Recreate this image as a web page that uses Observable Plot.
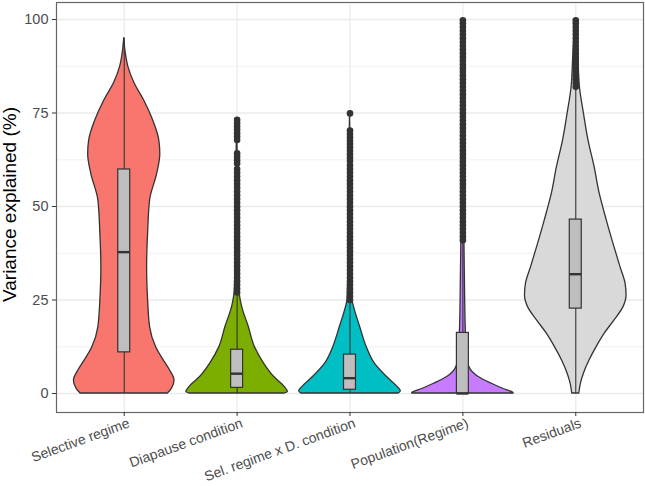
<!DOCTYPE html>
<html><head><meta charset="utf-8">
<script src="https://cdn.jsdelivr.net/npm/d3@7"></script>
<script src="https://cdn.jsdelivr.net/npm/@observablehq/plot@0.6"></script>
<style>
body{margin:0;background:#fff;}
svg{font-family:"Liberation Sans",Arial,Helvetica,sans-serif;}
</style>
</head><body><div id="chart"></div>
<script>
const categories = ["Selective regime","Diapause condition","Sel. regime x D. condition","Population(Regime)","Residuals"];
const fillColors = ["#F8766D","#7CAE00","#00BFC4","#C77CFF","#D9D9D9"];
const yTicks = [0,25,50,75,100];
const yMinorTicks = [12.5,37.5,62.5,87.5];

// violin profiles: [value, relative density width]
const profileSelective = [[0,0.86],[1.3,0.94],[3.5,0.99],[6.2,0.9],[8.8,0.78],[12.3,0.63],[17.7,0.51],[24.9,0.47],[33.8,0.45],[42.8,0.47],[51.7,0.51],[58.8,0.65],[64,0.71],[67.7,0.69],[73,0.57],[78.4,0.39],[83,0.2],[87.4,0.08],[91,0.03],[95,0]];
const profileDiapause = [[0,0.94],[0.4,1],[1.7,0.94],[4.4,0.73],[8,0.53],[12.4,0.35],[17.8,0.23],[23.1,0.1],[27,0.05],[35,0.03],[50,0.02],[62,0.012],[73.4,0]];
const profileInteraction = [[0,0.96],[0.6,1],[1.7,0.94],[4.4,0.73],[8,0.49],[12.4,0.33],[17.8,0.2],[23.1,0.08],[25,0.05],[35,0.03],[50,0.02],[62,0.012],[75,0]];
const profilePopulation = [[0,1],[0.2,0.99],[1.2,0.8],[2.6,0.57],[4.4,0.31],[7,0.13],[10,0.085],[16,0.06],[25,0.045],[41,0.03],[60,0.02],[80,0.015],[100,0]];
const profileResiduals = [[0,0.07],[2.6,0.1],[5.3,0.16],[8.8,0.27],[12.4,0.41],[16,0.57],[19.5,0.76],[23.1,0.94],[26.2,1],[29.4,0.98],[33.8,0.88],[39.2,0.76],[46.3,0.61],[53.5,0.47],[60.6,0.37],[67.7,0.25],[74.9,0.16],[81.5,0.085],[90,0.05],[100,0.01]];

// boxplot statistics
const q1 = [11, 1.5, 1.0, 0, 22.7];
const medians = [37.8, 5.3, 4.1, 0, 31.9];
const q3 = [59.9, 11.7, 10.4, 16.2, 46.5];
const whiskerLow = [0, 0, 0, 0, 0];
const whiskerHigh = [95, 27, 24.5, 40.5, 82];

// outliers
const outliersSelective = [];
const outliersDiapause = [73.2,72.3,71.4,70.5,69.6,68.7,67.8,64.2,63.3,62.4,61.5,60,59,58,57,56,55,54,53,52,51,50,49,48,47,46,45,44,43,42,41,40,39,38,37,36,35,34,33,32,31,30,29,28,27];
const outliersInteraction = [74.9,70.3,69.4,68.5,67.6,66.7,65.8,64.9,64,63.1,62.2,61,60,59,58,57,56,55,54,53,52,51,50,49,48,47,46,45,44,43,42,41,40,39,38,37,36,35,34,33,32,31,30,29,28,27,26,25];
const outliersPopulation = [99.8,99,98,97,96,95,94,93,92,91,90,89,88,87,86,85,84,83,82,81,80,79,78,77,76,75,74,73,72,71,70,69,68,67,66,65,64,63,62,61,60,59,58,57,56,55,54,53,52,51,50,49,48,47,46,45,44,43,42,41];
const outliersResiduals = [99.8,99,98,97,96,95,94,93,92,91,90,89,88,87,86,85,84,83,82];

const profiles = [profileSelective, profileDiapause, profileInteraction, profilePopulation, profileResiduals];
const outlierLists = [outliersSelective, outliersDiapause, outliersInteraction, outliersPopulation, outliersResiduals];

const VW = 0.45, BW = 0.053;
const violinRows = profiles.flatMap((p, i) => p.map(([v, w]) => ({cat: categories[i], pos: i + 1, y: v, x1: i + 1 - w * VW, x2: i + 1 + w * VW})));
const boxRows = categories.map((c, i) => ({cat: c, pos: i + 1, q1: q1[i], med: medians[i], q3: q3[i], lo: whiskerLow[i], hi: whiskerHigh[i]}));
const outlierRows = outlierLists.flatMap((l, i) => l.map(v => ({cat: categories[i], pos: i + 1, y: v})));

const chart = Plot.plot({
  width: 645, height: 486,
  marginLeft: 56, marginRight: 2, marginTop: 2, marginBottom: 74,
  x: {type: "linear", domain: [0.4, 5.6], axis: null},
  y: {domain: [-5.08, 104.55], axis: null},
  color: {domain: categories, range: fillColors},
  marks: [
    Plot.gridY({ticks: yMinorTicks, stroke: "#EBEBEB", strokeOpacity: 1, strokeWidth: 0.7}),
    Plot.gridY({ticks: yTicks, stroke: "#EBEBEB", strokeOpacity: 1, strokeWidth: 1.3}),
    Plot.gridX({ticks: [1,2,3,4,5], stroke: "#EBEBEB", strokeOpacity: 1, strokeWidth: 1.3}),
    Plot.areaX(violinRows, {y: "y", x1: "x1", x2: "x2", z: "cat", fill: "cat", stroke: "#333", strokeWidth: 1.3, curve: "monotone-y"}),
    Plot.ruleX(boxRows, {x: "pos", y1: "lo", y2: "hi", stroke: "#333", strokeWidth: 1.1}),
    Plot.rect(boxRows, {x1: d => d.pos - BW, x2: d => d.pos + BW, y1: "q1", y2: "q3", fill: "#BEBEBE", stroke: "#333", strokeWidth: 1.2}),
    Plot.ruleY(boxRows, {y: "med", x1: d => d.pos - BW, x2: d => d.pos + BW, stroke: "#333", strokeWidth: 2.4}),
    Plot.dot(outlierRows, {x: "pos", y: "y", r: 3.3, fill: "#333", stroke: null}),
    Plot.frame({stroke: "#666", strokeWidth: 1.2}),
    Plot.axisY({ticks: yTicks, tickSize: 4, tickPadding: 4, fontSize: 14.5, stroke: "#333", fill: "#4D4D4D", label: null}),
    Plot.axisX({ticks: [1,2,3,4,5], tickSize: 4, tickFormat: () => "", stroke: "#333", label: null}),
    Plot.text(categories, {x: (d, i) => i + 1, frameAnchor: "bottom", dy: 5, dx: 3, rotate: -20, textAnchor: "end", lineAnchor: "top", fontSize: 14, fill: "#4D4D4D", text: d => d}),
    Plot.text(["Variance explained (%)"], {frameAnchor: "left", dx: -54, dy: -3, rotate: -90, lineAnchor: "top", textAnchor: "middle", fontSize: 19, fill: "#000", text: d => d})
  ]
});
document.getElementById("chart").appendChild(chart);
</script>
</body></html>
